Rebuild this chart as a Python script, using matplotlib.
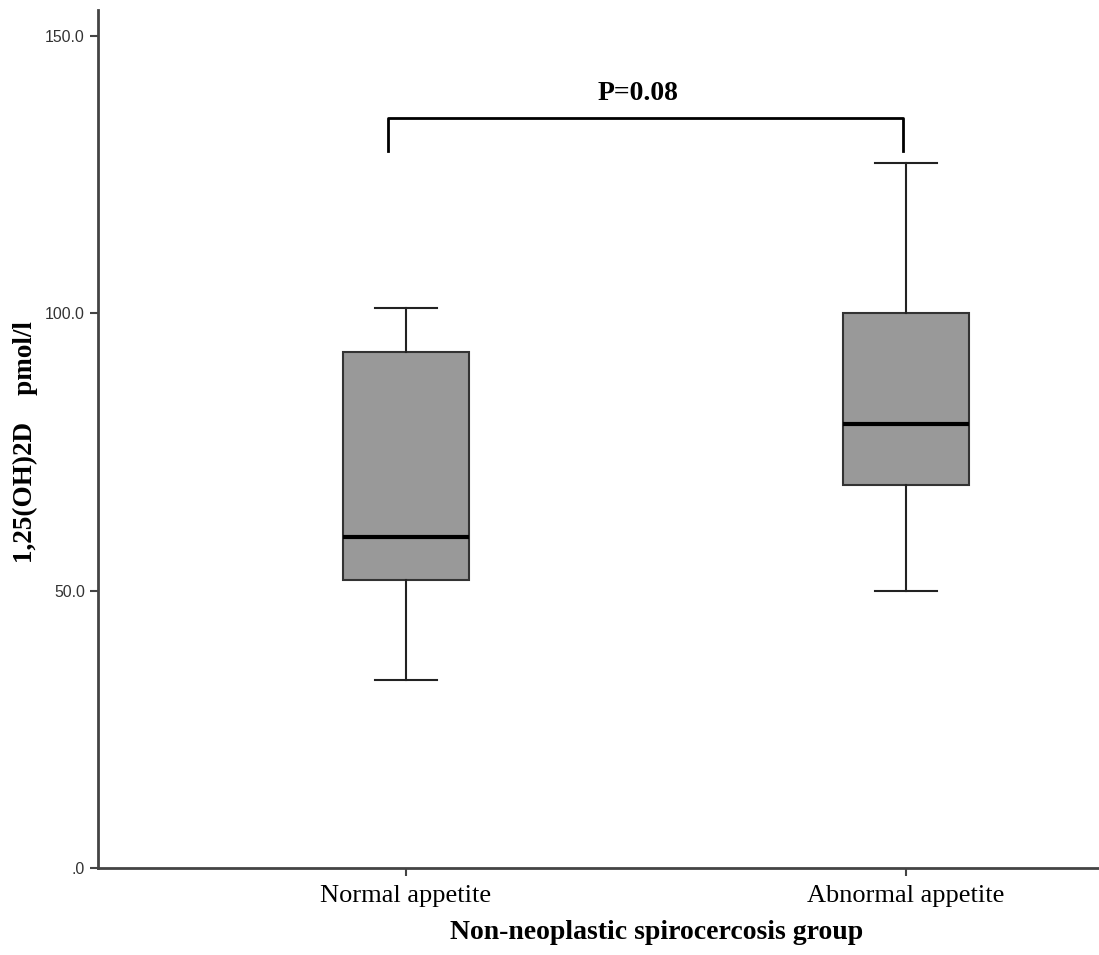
import matplotlib.pyplot as plt

# Datos
grupos = ['Normal appetite', 'Abnormal appetite']
whisker_low = [33.9, 50.0]
q1 = [52.0, 69.0]
mediana = [59.6, 80.0]
q3 = [93.0, 100.0]
whisker_high = [100.9, 127.1]
y_ticks = [0, 50, 100, 150]
y_ticklabels = ['.0', '50.0', '100.0', '150.0']

stats = []
for i, g in enumerate(grupos):
    stats.append({'label': g, 'whislo': whisker_low[i], 'q1': q1[i], 'med': mediana[i],
                  'q3': q3[i], 'whishi': whisker_high[i], 'fliers': []})

fig = plt.figure(figsize=(10.99, 9.55), dpi=100)
ax = fig.add_axes([98 / 1099, 1 - 868 / 955, 1001 / 1099, 858 / 955])

ax.bxp(stats, positions=[1, 2], widths=0.253, patch_artist=True,
       boxprops=dict(facecolor='#999999', edgecolor='#333333', linewidth=1.5),
       medianprops=dict(color='black', linewidth=3),
       whiskerprops=dict(color='#222222', linewidth=1.5),
       capprops=dict(color='#222222', linewidth=1.5),
       capwidths=0.125)

# Corchete de significancia
ax.plot([0.964, 0.964, 1.994, 1.994], [129.2, 135.2, 135.2, 129.2], color='black', linewidth=2)
ax.text(1.464, 139.7, 'P=0.08', ha='center', va='center', fontsize=20,
        fontweight='bold', family='Liberation Serif')

ax.set_xlim(0.384, 2.386)
ax.set_ylim(0, 154.7)
ax.set_yticks(y_ticks)
ax.set_yticklabels(y_ticklabels, family='Liberation Sans', fontsize=11.4, color='#333333')
ax.set_xticks([1, 2])
ax.set_xticklabels(grupos, family='Liberation Serif', fontsize=19)

for s in ['top', 'right']:
    ax.spines[s].set_visible(False)
for s in ['left', 'bottom']:
    ax.spines[s].set_color('#444444')
    ax.spines[s].set_linewidth(2)
ax.tick_params(axis='both', direction='out', length=6, width=1.5, color='#444444')
ax.tick_params(axis='x', pad=6)

ax.set_xlabel('Non-neoplastic spirocercosis group', family='Liberation Serif',
              fontweight='bold', fontsize=20)
ax.xaxis.set_label_coords(0.558, -0.061)
ax.set_ylabel('1,25(OH)2D    pmol/l', family='Liberation Serif',
              fontweight='bold', fontsize=19.5)
ax.yaxis.set_label_coords(-0.060, 0.497)

plt.savefig('out.png', dpi=100)
